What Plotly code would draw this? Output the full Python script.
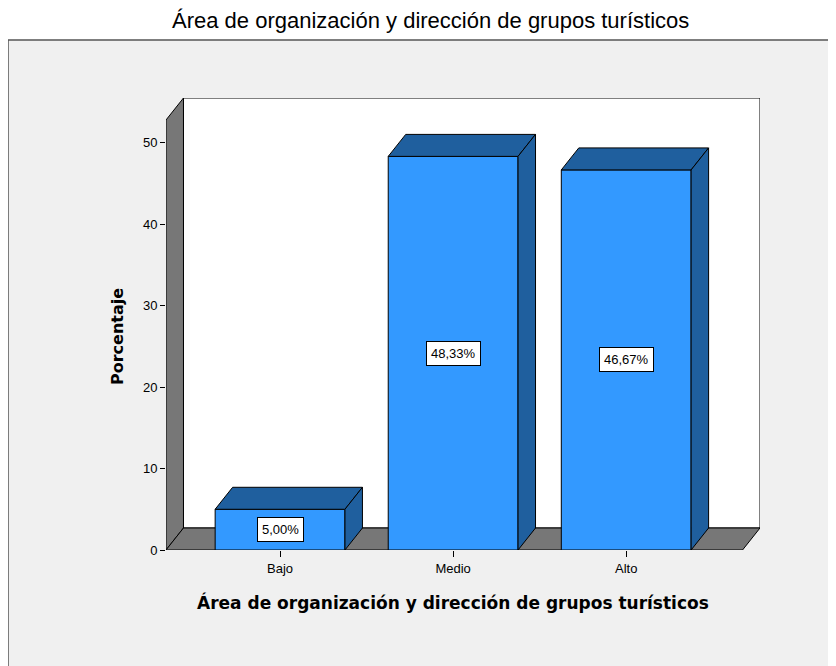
import plotly.graph_objects as go

categories = ["Bajo", "Medio", "Alto"]
values = [5.00, 48.33, 46.67]
value_labels = ["5,00%", "48,33%", "46,67%"]
y_ticks = [0, 10, 20, 30, 40, 50]

# geometry (data units)
HW = 0.375        # bar half width
DX = 0.101        # depth offset x
DY = 2.70         # depth offset y
X0 = -0.659       # front left of floor
X1 = 2.672        # front right of floor
WALL = 52.8       # front height of left wall
XR = [X0, X1 + DX]
YR = [0, WALL + DY]

FRONT = "#3399ff"
DARK = "#1f5f9e"
WALLC = "#777777"

fig = go.Figure()

def poly(xs, ys, color):
    fig.add_trace(go.Scatter(x=xs + [xs[0]], y=ys + [ys[0]], mode="lines",
                             fill="toself", fillcolor=color,
                             line=dict(color="black", width=1),
                             hoverinfo="skip", showlegend=False))

# back wall
poly([X0 + DX, X1 + DX, X1 + DX, X0 + DX], [DY, DY, WALL + DY, WALL + DY], "white")
# left wall
poly([X0, X0 + DX, X0 + DX, X0], [0, DY, WALL + DY, WALL], WALLC)
# floor
poly([X0, X1, X1 + DX, X0 + DX], [0, 0, DY, DY], WALLC)

for i, v in enumerate(values):
    l, r = i - HW, i + HW
    poly([l, r, r, l], [0, 0, v, v], FRONT)
    poly([l, r, r + DX, l + DX], [v, v, v + DY, v + DY], DARK)
    poly([r, r + DX, r + DX, r], [0, DY, v + DY, v], DARK)
    fig.add_annotation(x=i, y=v / 2, text=value_labels[i], showarrow=False,
                       xanchor="center", yanchor="middle",
                       font=dict(family="Liberation Sans, Arial", size=13, color="black"),
                       bgcolor="white", bordercolor="black", borderwidth=1, borderpad=4)

OFF = 8  # page offset of the figure in the browser
FW, FH = 836, 666
L, R, T, B = 166 - OFF, 76 + OFF, 98 - OFF, 116 + OFF
W, H = FW - L - R, FH - T - B

def px2paper_x(p):
    return (p - OFF - L) / W

def px2paper_y(p):
    return (FH - B - (p - OFF)) / H

# outer frame
fig.add_shape(type="rect", xref="paper", yref="paper",
              x0=px2paper_x(8), x1=px2paper_x(860), y0=px2paper_y(690), y1=px2paper_y(40),
              fillcolor="#f0f0f0", line=dict(color="#555555", width=1.5), layer="below")

fig.add_annotation(xref="paper", yref="paper", x=px2paper_x(117), y=px2paper_y(337),
                   xanchor="center", yanchor="middle",
                   text="<b>Porcentaje</b>", textangle=-90, showarrow=False,
                   font=dict(family="DejaVu Sans", size=16, color="black"))
fig.add_annotation(xref="x", yref="paper", x=1, y=px2paper_y(602),
                   xanchor="center", yanchor="middle",
                   text="<b>Área de organización y dirección de grupos turísticos</b>",
                   showarrow=False,
                   font=dict(family="DejaVu Sans", size=17, color="black"))
fig.add_annotation(xref="paper", yref="paper", x=px2paper_x(430), y=px2paper_y(21),
                   xanchor="center", yanchor="middle",
                   text="Área de organización y dirección de grupos turísticos",
                   showarrow=False,
                   font=dict(family="Liberation Sans, Arial", size=22, color="black"))

fig.update_layout(
    width=FW, height=FH,
    margin=dict(l=L, r=R, t=T, b=B),
    paper_bgcolor="white", plot_bgcolor="rgba(0,0,0,0)",
    xaxis=dict(range=XR, tickvals=list(range(len(categories))), ticktext=categories,
               showgrid=False, zeroline=False, showline=False,
               ticks="outside", ticklen=6, tickcolor="black",
               tickfont=dict(family="Liberation Sans, Arial", size=13, color="black")),
    yaxis=dict(range=YR, tickvals=y_ticks, showgrid=False, zeroline=False, showline=False,
               ticks="outside", ticklen=5, tickcolor="black",
               tickfont=dict(family="Liberation Sans, Arial", size=13, color="black")),
)

fig.write_html("out.html")
